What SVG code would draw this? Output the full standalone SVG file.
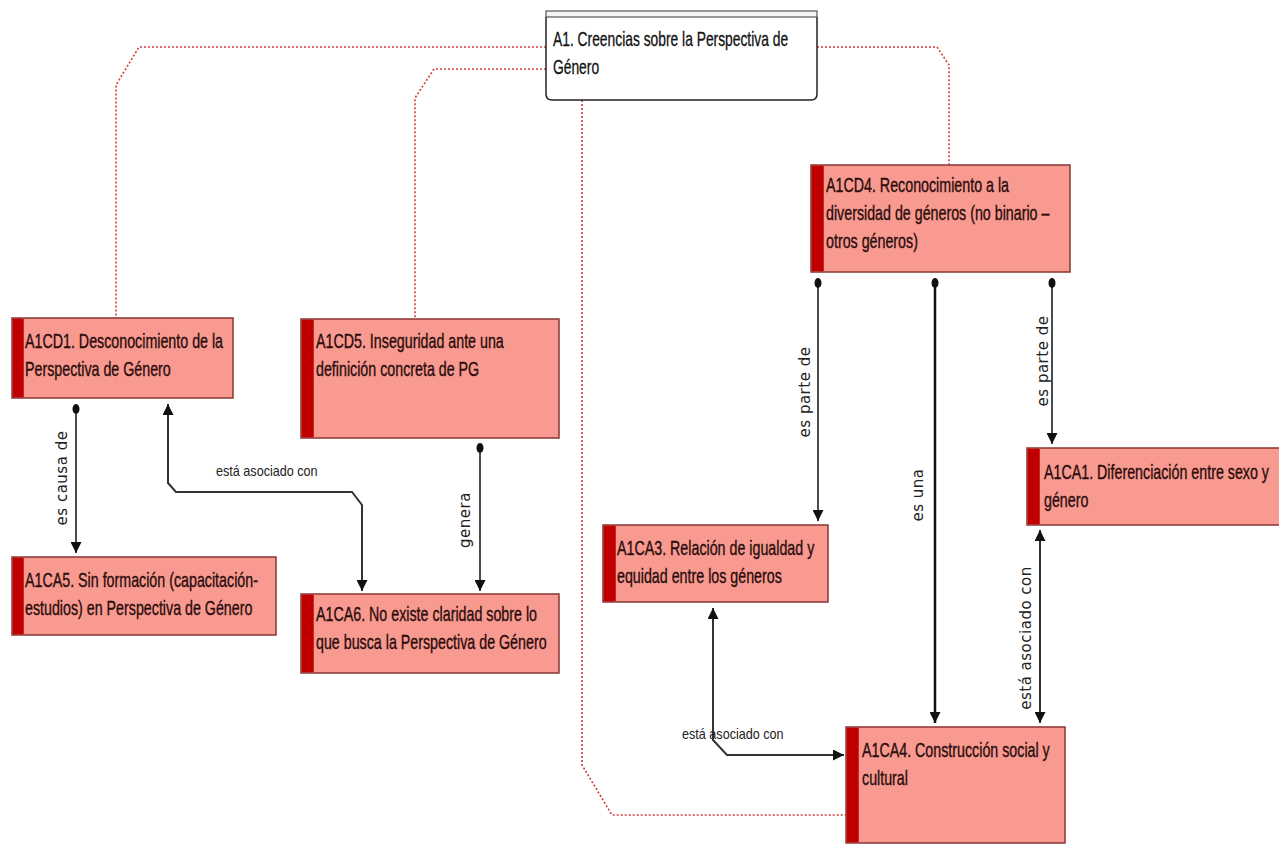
<svg xmlns="http://www.w3.org/2000/svg" width="1279" height="846" viewBox="0 0 1279 846">
  <defs>
    <marker id="arr" viewBox="0 0 10 10" refX="10" refY="5" markerWidth="11" markerHeight="11" markerUnits="userSpaceOnUse" orient="auto-start-reverse">
      <path d="M0,0 L10,5 L0,10 z" fill="#111"/>
    </marker>
    <style>
      .bg{fill:#ffffff}
      .box{fill:#f89a90;stroke:#8a3434;stroke-width:1.5}
      .bar{fill:#c00000}
      .bx{font-family:"Liberation Sans",Arial,sans-serif;font-size:20px;fill:#2a0c0c;stroke:#2a0c0c;stroke-width:.35}
      .tt{font-family:"Liberation Sans",Arial,sans-serif;font-size:20.5px;fill:#111;stroke:#111;stroke-width:.3}
      .lb{font-family:"DejaVu Sans",Verdana,sans-serif;font-size:15px;letter-spacing:.5px;fill:#222}
      .lh{font-family:"Liberation Sans",Arial,sans-serif;font-size:14.5px;fill:#222}
      .dot{fill:none;stroke:#d23c3c;stroke-width:1.6;stroke-dasharray:2 2}
      .ln{fill:none;stroke:#111;stroke-width:1.5}
      .lnb{fill:none;stroke:#111;stroke-width:2.5}
      .lng{fill:none;stroke:#333;stroke-width:2}
      .pin{fill:#111}
    </style>
  </defs>

  <rect class="bg" x="0" y="0" width="1279" height="846"/>

  <!-- dotted links from the central belief node -->
  <g id="links">
    <path class="dot" d="M546,47 H139 L116,85 V318"/>
    <path class="dot" d="M546,69 H434 L415,98 V319"/>
    <path class="dot" d="M817,47 H937 L949,65 V165"/>
    <path class="dot" d="M582,100 V765 L612,815 H846"/>
  </g>

  <!-- labelled relations -->
  <g id="connectors">
    <!-- es causa de -->
    <path class="ln" d="M76,409 V553" marker-end="url(#arr)"/>
    <ellipse class="pin" cx="76" cy="409" rx="3.5" ry="5"/>
    <text class="lb" text-anchor="middle" transform="translate(67,478) rotate(-90)">es causa de</text>

    <!-- está asociado con (A1CD1 / A1CA6) -->
    <path class="lng" d="M168,404 V483 L176,492 H352 L362,505 V591" marker-start="url(#arr)" marker-end="url(#arr)"/>
    <text class="lh" transform="matrix(.87 0 0 1 216 476)">está asociado con</text>

    <!-- genera -->
    <path class="ln" d="M480,448 V591" marker-end="url(#arr)"/>
    <ellipse class="pin" cx="480" cy="448" rx="3.5" ry="5"/>
    <text class="lb" text-anchor="middle" transform="translate(470,520) rotate(-90)">genera</text>

    <!-- es parte de (A1CA3) -->
    <path class="ln" d="M818,283 V521" marker-end="url(#arr)"/>
    <ellipse class="pin" cx="818" cy="283" rx="3.5" ry="5"/>
    <text class="lb" text-anchor="middle" transform="translate(810,392) rotate(-90)">es parte de</text>

    <!-- es una -->
    <path class="lnb" d="M935,283 V723" marker-end="url(#arr)"/>
    <ellipse class="pin" cx="935" cy="283" rx="3.5" ry="5"/>
    <text class="lb" text-anchor="middle" transform="translate(923,495) rotate(-90)">es una</text>

    <!-- es parte de (A1CA1) -->
    <path class="ln" d="M1052,283 V444" marker-end="url(#arr)"/>
    <ellipse class="pin" cx="1052" cy="283" rx="3.5" ry="5"/>
    <text class="lb" text-anchor="middle" transform="translate(1048,361) rotate(-90)">es parte de</text>

    <!-- está asociado con (A1CA1 / A1CA4) -->
    <path class="lng" d="M1040,530 V723" marker-start="url(#arr)" marker-end="url(#arr)"/>
    <text class="lb" text-anchor="middle" transform="translate(1031,638) rotate(-90)">está asociado con</text>

    <!-- está asociado con (A1CA3 / A1CA4) -->
    <path class="lng" d="M713,608 V740 L727,755 H844" marker-start="url(#arr)" marker-end="url(#arr)"/>
    <text class="lh" transform="matrix(.87 0 0 1 682 739)">está asociado con</text>
  </g>

  <!-- central node -->
  <g id="A1">
    <path d="M546,17 V94 Q546,100 552,100 H811 Q817,100 817,94 V17" fill="#fff" stroke="#222" stroke-width="1.5"/>
    <rect x="546" y="11" width="271" height="6" fill="#f4f4f4" stroke="#555" stroke-width="1.2"/>
    <text class="tt" transform="matrix(.675 0 0 1 553 46)">A1. Creencias sobre la Perspectiva de</text>
    <text class="tt" transform="matrix(.675 0 0 1 553 74)">Género</text>
  </g>

  <g id="A1CD1">
    <rect class="box" x="12" y="318" width="221" height="80"/>
    <rect class="bar" x="12.75" y="318.75" width="11" height="78.5"/>
    <text class="bx" transform="matrix(.713 0 0 1 25 348)">A1CD1. Desconocimiento de la</text>
    <text class="bx" transform="matrix(.713 0 0 1 25 376)">Perspectiva de Género</text>
  </g>

  <g id="A1CD5">
    <rect class="box" x="301" y="319" width="258" height="119"/>
    <rect class="bar" x="301.75" y="319.75" width="12" height="117.5"/>
    <text class="bx" transform="matrix(.713 0 0 1 316 348)">A1CD5. Inseguridad ante una</text>
    <text class="bx" transform="matrix(.713 0 0 1 316 376)">definición concreta de PG</text>
  </g>

  <g id="A1CD4">
    <rect class="box" x="811" y="165" width="259" height="107"/>
    <rect class="bar" x="811.75" y="165.75" width="12" height="105.5"/>
    <text class="bx" transform="matrix(.713 0 0 1 826 192)">A1CD4. Reconocimiento a la</text>
    <text class="bx" transform="matrix(.713 0 0 1 826 220)">diversidad de géneros (no binario –</text>
    <text class="bx" transform="matrix(.713 0 0 1 826 248)">otros géneros)</text>
  </g>

  <g id="A1CA1">
    <rect class="box" x="1027" y="448" width="260" height="77"/>
    <rect class="bar" x="1027.75" y="448.75" width="12" height="75.5"/>
    <text class="bx" transform="matrix(.713 0 0 1 1044 479)">A1CA1. Diferenciación entre sexo y</text>
    <text class="bx" transform="matrix(.713 0 0 1 1044 507)">género</text>
  </g>

  <g id="A1CA3">
    <rect class="box" x="603" y="525" width="225" height="77"/>
    <rect class="bar" x="603.75" y="525.75" width="12" height="75.5"/>
    <text class="bx" transform="matrix(.713 0 0 1 617 555)">A1CA3. Relación de igualdad y</text>
    <text class="bx" transform="matrix(.713 0 0 1 617 583)">equidad entre los géneros</text>
  </g>

  <g id="A1CA5">
    <rect class="box" x="12" y="557" width="264" height="78"/>
    <rect class="bar" x="12.75" y="557.75" width="11" height="76.5"/>
    <text class="bx" transform="matrix(.713 0 0 1 25 587)">A1CA5. Sin formación (capacitación-</text>
    <text class="bx" transform="matrix(.713 0 0 1 25 615)">estudios) en Perspectiva de Género</text>
  </g>

  <g id="A1CA6">
    <rect class="box" x="301" y="594" width="258" height="79"/>
    <rect class="bar" x="301.75" y="594.75" width="12" height="77.5"/>
    <text class="bx" transform="matrix(.713 0 0 1 316 621)">A1CA6. No existe claridad sobre lo</text>
    <text class="bx" transform="matrix(.713 0 0 1 316 649)">que busca la Perspectiva de Género</text>
  </g>

  <g id="A1CA4">
    <rect class="box" x="846" y="727" width="219" height="116"/>
    <rect class="bar" x="846.75" y="727.75" width="12" height="114.5"/>
    <text class="bx" transform="matrix(.713 0 0 1 862 757)">A1CA4. Construcción social y</text>
    <text class="bx" transform="matrix(.713 0 0 1 862 785)">cultural</text>
  </g>
</svg>
